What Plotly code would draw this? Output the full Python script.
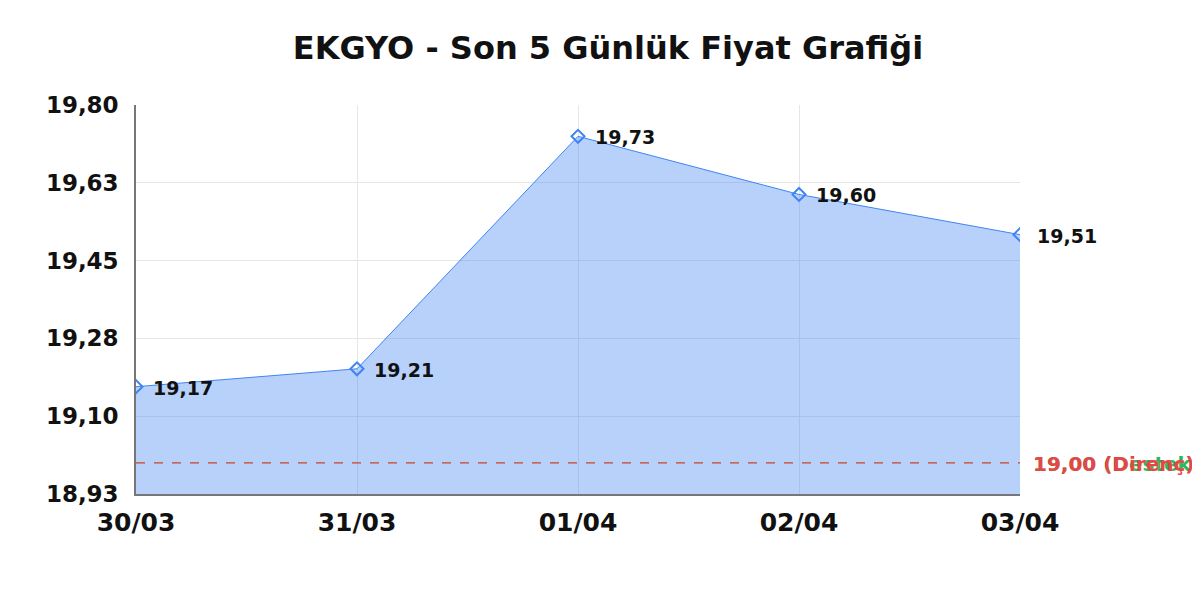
import plotly.graph_objects as go

# ---- data ----
dates = ["30/03", "31/03", "01/04", "02/04", "03/04"]
prices = [19.17, 19.21, 19.73, 19.60, 19.51]
price_labels = ["19,17", "19,21", "19,73", "19,60", "19,51"]

y_tick_vals = [18.93, 19.104, 19.278, 19.452, 19.626, 19.80]
y_tick_text = ["18,93", "19,10", "19,28", "19,45", "19,63", "19,80"]
y_range = [18.93, 19.80]

support_level = 19.00
support_label = "19,00 (Destek)"
resistance_level = 19.00
resistance_label = "19,00 (Direnç)"

title_text = "EKGYO - Son 5 Günlük Fiyat Grafiği"

FONT = "DejaVu Sans"
BLUE = "#3f84f2"

fig = go.Figure()

# price area
fig.add_trace(go.Scatter(
    x=dates, y=prices, mode="lines+markers",
    fill="tozeroy", fillcolor="rgba(66,133,244,0.38)",
    line=dict(color=BLUE, width=1),
    marker=dict(symbol="diamond-open", size=10, color=BLUE, line=dict(width=2, color=BLUE)),
    showlegend=False))

# support line (green, under)
fig.add_trace(go.Scatter(
    x=[dates[0], dates[-1]], y=[support_level, support_level],
    mode="lines", line=dict(color="rgba(46,184,92,0.8)", width=1.5, dash="dash"),
    hoverinfo="skip", showlegend=False))

# resistance line (red, on top)
fig.add_trace(go.Scatter(
    x=[dates[0], dates[-1]], y=[resistance_level, resistance_level],
    mode="lines", line=dict(color="rgba(236,80,80,0.85)", width=1.5, dash="dash"),
    hoverinfo="skip", showlegend=False))

annotations = []
for d, p, t in zip(dates, prices, price_labels):
    annotations.append(dict(
        x=d, y=p, text=f"<b>{t}</b>", showarrow=False,
        xanchor="left", yanchor="middle", xshift=15, yshift=-1,
        font=dict(family=FONT, size=19, color="#111111")))

annotations.append(dict(
    x=dates[-1], y=support_level, text=f"<b>{support_label}</b>", showarrow=False,
    xanchor="left", yanchor="middle", xshift=11, yshift=-1,
    font=dict(family=FONT, size=20, color="#2eb85c")))
annotations.append(dict(
    x=dates[-1], y=resistance_level, text=f"<b>{resistance_label}</b>", showarrow=False,
    xanchor="left", yanchor="middle", xshift=11, yshift=-1,
    font=dict(family=FONT, size=20, color="#e84646")))

fig.update_layout(
    width=1200, height=600,
    paper_bgcolor="white", plot_bgcolor="white",
    margin=dict(l=128, r=188, t=97, b=114),
    title=dict(text=f"<b>{title_text}</b>", x=0.5, xanchor="center",
               y=1 - 40 / 600, yanchor="middle", yref="container",
               font=dict(family=FONT, size=32, color="#111111")),
    annotations=annotations,
    xaxis=dict(
        type="category", categoryorder="array", categoryarray=dates,
        range=[0, len(dates) - 1],
        showgrid=True, gridcolor="#e6e6e6", gridwidth=1,
        showline=True, linecolor="#777777", linewidth=1.5,
        ticks="", ticklabelstandoff=5, zeroline=False,
        tickfont=dict(family=FONT, size=25, color="#111111", weight="bold")),
    yaxis=dict(
        range=y_range, tickvals=y_tick_vals, ticktext=y_tick_text,
        showgrid=True, gridcolor="#e6e6e6", gridwidth=1,
        showline=True, linecolor="#777777", linewidth=1.5,
        ticks="", ticklabelstandoff=11, zeroline=False,
        tickfont=dict(family=FONT, size=23, color="#111111", weight="bold")),
)

fig.write_html("out.html")
